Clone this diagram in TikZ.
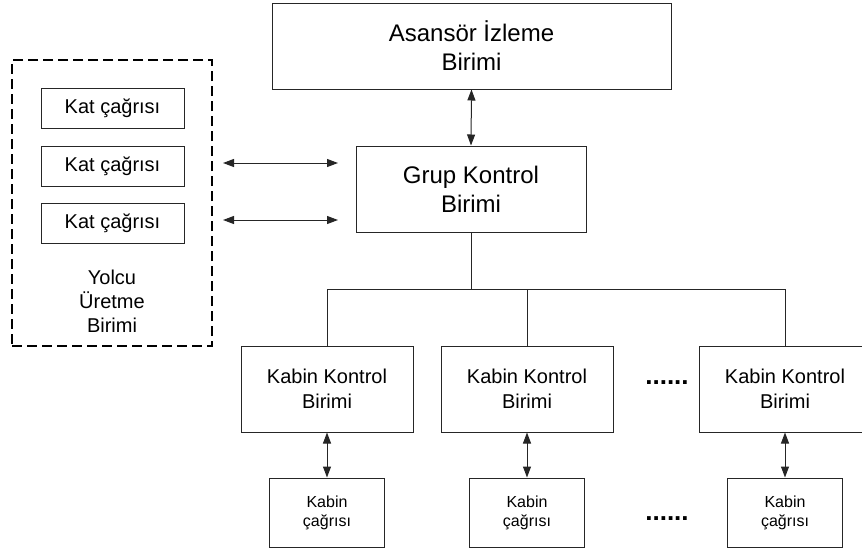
\documentclass[tikz,border=0pt]{standalone}
\usepackage{fontspec}
\setmainfont{Liberation Sans}
\usetikzlibrary{arrows.meta,calc}
\begin{document}
\begin{tikzpicture}[x=1pt,y=-1pt,
  box/.style={draw=black!85, line width=1pt, rectangle, inner sep=0pt, align=center, text=black},
  bigbox/.style={box, font=\fontsize{24}{29}\selectfont},
  midbox/.style={box, font=\fontsize{20}{25}\selectfont},
  smallbox/.style={box, font=\fontsize{16}{19}\selectfont},
  dashbox/.style={draw=black, line width=2pt, dash pattern=on 10pt off 5pt, rectangle, inner sep=0pt},
  link/.style={draw=black!85, line width=1pt},
  dlink/.style={link, {Triangle[length=11pt,width=8pt]}-{Triangle[length=11pt,width=8pt]}},
  dots/.style={font=\fontsize{26}{26}\selectfont\bfseries, inner sep=0pt}
]
\useasboundingbox (0,0) rectangle (862,549);

% top units
\node[bigbox, minimum width=399pt, minimum height=86pt] (mon) at (471.5,46) {Asansör İzleme\\Birimi};
\node[bigbox, minimum width=230pt, minimum height=86pt] (grup) at (471,189) {Grup Kontrol\\Birimi};

% passenger generation unit
\node[dashbox, minimum width=200pt, minimum height=286pt] (yolcu) at (112,203) {};
\node[midbox, minimum width=143pt, minimum height=40pt] (kat1) at (112.5,108) {Kat çağrısı};
\node[midbox, minimum width=143pt, minimum height=40pt] (kat2) at (112.5,166) {Kat çağrısı};
\node[midbox, minimum width=143pt, minimum height=40pt] (kat3) at (112.5,223) {Kat çağrısı};
\node[align=center, font=\fontsize{20}{24}\selectfont, inner sep=0pt] (yolcutxt) at (112,301) {Yolcu\\Üretme\\Birimi};

% cabin control units
\node[midbox, minimum width=172pt, minimum height=86pt] (kk1) at (327,389) {Kabin Kontrol\\Birimi};
\node[midbox, minimum width=172pt, minimum height=86pt] (kk2) at (527,389) {Kabin Kontrol\\Birimi};
\node[midbox, minimum width=172pt, minimum height=86pt] (kk3) at (785,389) {Kabin Kontrol\\Birimi};

% cabin calls
\node[smallbox, minimum width=115pt, minimum height=69pt] (kc1) at (327,512.5) {Kabin\\çağrısı};
\node[smallbox, minimum width=115pt, minimum height=69pt] (kc2) at (527,512.5) {Kabin\\çağrısı};
\node[smallbox, minimum width=115pt, minimum height=69pt] (kc3) at (785,512.5) {Kabin\\çağrısı};

% ellipses
\node[dots] (dots1) at (667,383) {......};
\node[dots] (dots2) at (667,519) {......};

% connectors
\draw[dlink] (mon.south) -- (grup.north);

\coordinate (a1l) at (223,163);
\coordinate (a1r) at (338,163);
\coordinate (a2l) at (223,220);
\coordinate (a2r) at (338,220);
\draw[dlink] (a1l) -- (a1r);
\draw[dlink] (a2l) -- (a2r);

\coordinate (bus) at (471,289);
\draw[link] (grup.south) -- (bus);
\draw[link] (kk1.north) -- (kk1.north |- bus) -- (kk3.north |- bus) -- (kk3.north);
\draw[link] (kk2.north) -- (kk2.north |- bus);

\draw[dlink] (kk1.south) -- (kc1.north);
\draw[dlink] (kk2.south) -- (kc2.north);
\draw[dlink] (kk3.south) -- (kc3.north);
\end{tikzpicture}
\end{document}
